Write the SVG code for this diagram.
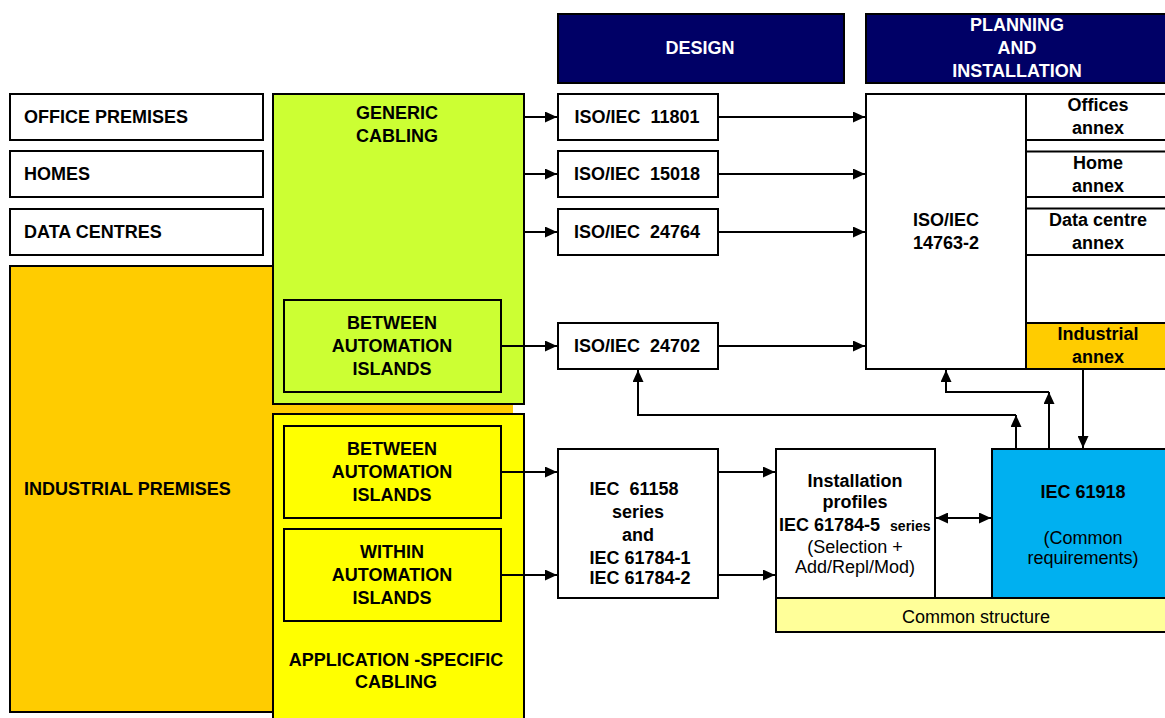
<svg xmlns="http://www.w3.org/2000/svg" width="1165" height="718" viewBox="0 0 1165 718">
<style>
text{font-family:"Liberation Sans",Arial,sans-serif;font-size:18px;fill:#000}
.b{font-weight:bold}
.c{text-anchor:middle}
.w{fill:#fff}
.box{stroke:#000;stroke-width:2}
.ln{stroke:#000;stroke-width:2;fill:none}
.con{stroke:#000;stroke-width:2;fill:none}
.a{marker-end:url(#ah)}
</style>
<defs>
<marker id="ah" markerUnits="userSpaceOnUse" markerWidth="12" markerHeight="11" refX="12" refY="5.5" orient="auto">
<path d="M0,0 L12,5.5 L0,11 z" fill="#000"/>
</marker>
<marker id="as" markerUnits="userSpaceOnUse" markerWidth="12" markerHeight="11" refX="0" refY="5.5" orient="auto">
<path d="M12,0 L0,5.5 L12,11 z" fill="#000"/>
</marker>
</defs>
<rect width="1165" height="718" fill="#fff"/>

<g id="design-header">
<rect class="box" x="558" y="14" width="286" height="69" fill="#000066"/>
<text class="b c w" x="700" y="54">DESIGN</text>
</g>
<g id="planning-header">
<rect class="box" x="866" y="14" width="310" height="69" fill="#000066"/>
<text class="b c w" x="1017" y="31">PLANNING</text>
<text class="b c w" x="1017" y="54">AND</text>
<text class="b c w" x="1017" y="77">INSTALLATION</text>
</g>

<g id="office">
<rect class="box" x="10" y="94" width="253" height="46" fill="#fff"/>
<text class="b" x="24" y="123">OFFICE PREMISES</text>
</g>
<g id="homes">
<rect class="box" x="10" y="151" width="253" height="46" fill="#fff"/>
<text class="b" x="24" y="180">HOMES</text>
</g>
<g id="datacentres">
<rect class="box" x="10" y="209" width="253" height="46" fill="#fff"/>
<text class="b" x="24" y="238">DATA CENTRES</text>
</g>
<g id="industrial">
<rect x="10" y="266" width="503" height="446" fill="#FFCC00"/>
<path class="ln" d="M273,266 H10 V712 H273"/>
<text class="b" x="24" y="495">INDUSTRIAL PREMISES</text>
</g>

<g id="generic">
<rect class="box" x="273" y="94" width="251" height="310" fill="#CCFF33"/>
<text class="b c" x="397" y="119">GENERIC</text>
<text class="b c" x="397" y="142">CABLING</text>
</g>
<g id="generic-between">
<rect class="box" x="284" y="300" width="217" height="92" fill="#CCFF33"/>
<text class="b c" x="392" y="329">BETWEEN</text>
<text class="b c" x="392" y="352">AUTOMATION</text>
<text class="b c" x="392" y="375">ISLANDS</text>
</g>

<g id="appspecific">
<rect class="box" x="273" y="414" width="251" height="310" fill="#FFFF00"/>
<text class="b c" x="396" y="666" xml:space="preserve">APPLICATION -SPECIFIC</text>
<text class="b c" x="396" y="688">CABLING</text>
</g>
<g id="app-between">
<rect class="box" x="284" y="426" width="217" height="92" fill="#FFFF00"/>
<text class="b c" x="392" y="455">BETWEEN</text>
<text class="b c" x="392" y="478">AUTOMATION</text>
<text class="b c" x="392" y="501">ISLANDS</text>
</g>
<g id="app-within">
<rect class="box" x="284" y="529" width="217" height="92" fill="#FFFF00"/>
<text class="b c" x="392" y="558">WITHIN</text>
<text class="b c" x="392" y="581">AUTOMATION</text>
<text class="b c" x="392" y="604">ISLANDS</text>
</g>

<g id="iso11801">
<rect class="box" x="558" y="94" width="160" height="46" fill="#fff"/>
<text class="b c" x="637" y="123" xml:space="preserve">ISO/IEC  11801</text>
</g>
<g id="iso15018">
<rect class="box" x="558" y="151" width="160" height="46" fill="#fff"/>
<text class="b c" x="637" y="180" xml:space="preserve">ISO/IEC  15018</text>
</g>
<g id="iso24764">
<rect class="box" x="558" y="209" width="160" height="46" fill="#fff"/>
<text class="b c" x="637" y="238" xml:space="preserve">ISO/IEC  24764</text>
</g>
<g id="iso24702">
<rect class="box" x="558" y="323" width="160" height="46" fill="#fff"/>
<text class="b c" x="637" y="352" xml:space="preserve">ISO/IEC  24702</text>
</g>

<g id="iso14763">
<rect class="box" x="866" y="94" width="160" height="275" fill="#fff"/>
<text class="b c" x="946" y="226">ISO/IEC</text>
<text class="b c" x="946" y="249">14763-2</text>
</g>
<g id="annexes">
<path class="ln" d="M1026,94 H1170 M1026,140 H1170 M1026,151.5 H1170 M1026,197 H1170 M1026,208.5 H1170 M1026,255 H1170"/>
<rect class="box" x="1026" y="323" width="150" height="46" fill="#FFCC00"/>
<text class="b c" x="1098" y="111">Offices</text>
<text class="b c" x="1098" y="134">annex</text>
<text class="b c" x="1098" y="169">Home</text>
<text class="b c" x="1098" y="192">annex</text>
<text class="b c" x="1098" y="226">Data centre</text>
<text class="b c" x="1098" y="249">annex</text>
<text class="b c" x="1098" y="340">Industrial</text>
<text class="b c" x="1098" y="363">annex</text>
</g>

<g id="iec61158">
<rect class="box" x="558" y="449" width="160" height="149" fill="#fff"/>
<text class="b c" x="634" y="495" xml:space="preserve">IEC  61158</text>
<text class="b c" x="638" y="518">series</text>
<text class="b c" x="638" y="541">and</text>
<text class="b c" x="640" y="564">IEC 61784-1</text>
<text class="b c" x="640" y="584">IEC 61784-2</text>
</g>
<g id="profiles">
<rect class="box" x="776" y="449" width="159" height="149" fill="#fff"/>
<text class="b c" x="855" y="487">Installation</text>
<text class="b c" x="855" y="508">profiles</text>
<text class="b" x="779" y="531" xml:space="preserve">IEC 61784-5  <tspan style="font-size:14px">series</tspan></text>
<text class="c" x="855" y="553">(Selection +</text>
<text class="c" x="855" y="573">Add/Repl/Mod)</text>
</g>
<g id="iec61918">
<rect class="box" x="992" y="449" width="184" height="149" fill="#00B0F0"/>
<text class="b c" x="1083" y="498">IEC 61918</text>
<text class="c" x="1083" y="544">(Common</text>
<text class="c" x="1083" y="564">requirements)</text>
</g>
<g id="common">
<rect class="box" x="776" y="598" width="400" height="34" fill="#FFFF99"/>
<text class="c" x="976" y="623">Common structure</text>
</g>

<g id="connectors">
<path class="con a" d="M524,117 H557"/>
<path class="con a" d="M524,174 H557"/>
<path class="con a" d="M524,232 H557"/>
<path class="con a" d="M501,346 H557"/>
<path class="con a" d="M718,117 H865"/>
<path class="con a" d="M718,174 H865"/>
<path class="con a" d="M718,232 H865"/>
<path class="con a" d="M718,346 H865"/>
<path class="con a" d="M501,472 H557"/>
<path class="con a" d="M501,575 H557"/>
<path class="con a" d="M718,472 H775"/>
<path class="con a" d="M718,575 H775"/>
<path class="con" d="M936,518 H991" marker-start="url(#as)" marker-end="url(#ah)"/>
<path class="con a" d="M1083,369 V448"/>
<path class="con a" d="M1049,449 V392"/>
<path class="con a" d="M1049,392 H946 V370"/>
<path class="con a" d="M1016,449 V415"/>
<path class="con a" d="M1016,415 H638 V370"/>
</g>
</svg>
